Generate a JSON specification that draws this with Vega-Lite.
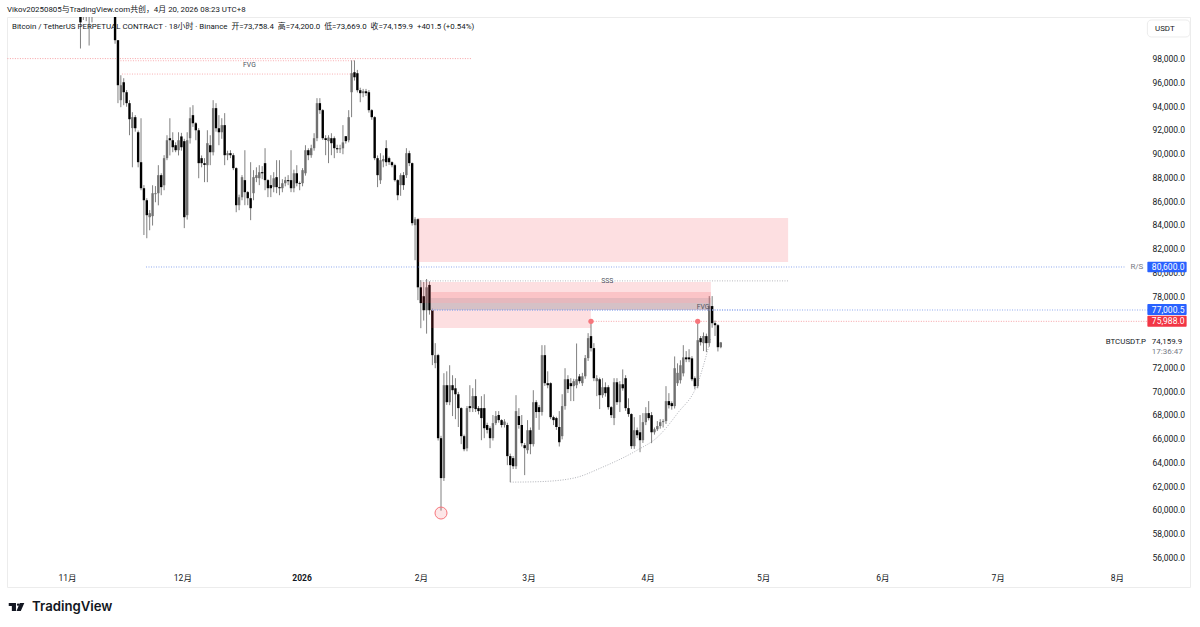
{
  "$schema": "https://vega.github.io/schema/vega-lite/v6.json",
  "description": "BTCUSDT.P 18h candles with FVG zones and levels",
  "width": 1183,
  "height": 570,
  "padding": {"left": 7, "top": 17, "right": 10, "bottom": 40},
  "autosize": "none",
  "background": "#ffffff",
  "view": {"stroke": "#ececec", "strokeWidth": 1},
  "config": {"font": "Roboto, Noto Sans CJK SC"},
  "datasets": {
    "bars": [
      {"t":"2025-11-04T12:00Z","o":102800,"h":103900,"l":98900,"c":101100},
      {"t":"2025-11-05T06:00Z","o":102500,"h":104000,"l":101300,"c":103000},
      {"t":"2025-11-06T00:00Z","o":103000,"h":103500,"l":101200,"c":102500},
      {"t":"2025-11-06T18:00Z","o":102400,"h":103000,"l":99150,"c":102800},
      {"t":"2025-11-07T12:00Z","o":103000,"h":104000,"l":101100,"c":103600},
      {"t":"2025-11-08T06:00Z","o":103600,"h":104500,"l":102400,"c":103200},
      {"t":"2025-11-09T00:00Z","o":103200,"h":104900,"l":102600,"c":104500},
      {"t":"2025-11-09T18:00Z","o":104500,"h":106000,"l":103900,"c":105600},
      {"t":"2025-11-10T12:00Z","o":105600,"h":106500,"l":104800,"c":105000},
      {"t":"2025-11-11T06:00Z","o":105000,"h":105500,"l":102900,"c":103200},
      {"t":"2025-11-12T00:00Z","o":103200,"h":105000,"l":102600,"c":104400},
      {"t":"2025-11-12T18:00Z","o":103000,"h":104000,"l":101600,"c":101900},
      {"t":"2025-11-13T12:00Z","o":101900,"h":102300,"l":99300,"c":99600},
      {"t":"2025-11-14T06:00Z","o":99600,"h":99600,"l":94300,"c":95810},
      {"t":"2025-11-15T00:00Z","o":94550,"h":96650,"l":93960,"c":95810},
      {"t":"2025-11-15T18:00Z","o":96060,"h":96400,"l":94130,"c":95220},
      {"t":"2025-11-16T12:00Z","o":95220,"h":95400,"l":94000,"c":94300},
      {"t":"2025-11-17T06:00Z","o":94300,"h":94550,"l":91600,"c":92950},
      {"t":"2025-11-18T00:00Z","o":92200,"h":93540,"l":88900,"c":93120},
      {"t":"2025-11-18T18:00Z","o":93120,"h":93290,"l":91900,"c":92190},
      {"t":"2025-11-19T12:00Z","o":91850,"h":92000,"l":88900,"c":89330},
      {"t":"2025-11-20T06:00Z","o":89330,"h":93030,"l":86970,"c":87140},
      {"t":"2025-11-21T00:00Z","o":87140,"h":87400,"l":83200,"c":86130},
      {"t":"2025-11-21T18:00Z","o":86130,"h":86300,"l":82930,"c":84870},
      {"t":"2025-11-22T12:00Z","o":84700,"h":85300,"l":83600,"c":85040},
      {"t":"2025-11-23T06:00Z","o":84790,"h":87390,"l":84000,"c":86720},
      {"t":"2025-11-24T00:00Z","o":86640,"h":87320,"l":85960,"c":86720},
      {"t":"2025-11-24T18:00Z","o":86720,"h":89080,"l":85700,"c":88240},
      {"t":"2025-11-25T12:00Z","o":88240,"h":88400,"l":86550,"c":87230},
      {"t":"2025-11-26T06:00Z","o":87390,"h":89920,"l":86970,"c":89670},
      {"t":"2025-11-27T00:00Z","o":89670,"h":91600,"l":89500,"c":91180},
      {"t":"2025-11-27T18:00Z","o":91350,"h":93030,"l":89900,"c":91180},
      {"t":"2025-11-28T12:00Z","o":91180,"h":91850,"l":90170,"c":90590},
      {"t":"2025-11-29T06:00Z","o":90760,"h":91000,"l":90170,"c":90340},
      {"t":"2025-11-30T00:00Z","o":90340,"h":91850,"l":89900,"c":91180},
      {"t":"2025-11-30T18:00Z","o":91500,"h":91800,"l":90300,"c":90590},
      {"t":"2025-12-01T12:00Z","o":91100,"h":91300,"l":83780,"c":84700},
      {"t":"2025-12-02T06:00Z","o":84870,"h":91850,"l":84500,"c":91180},
      {"t":"2025-12-03T00:00Z","o":91350,"h":93950,"l":90900,"c":93030},
      {"t":"2025-12-03T18:00Z","o":93290,"h":94130,"l":92300,"c":92610},
      {"t":"2025-12-04T12:00Z","o":92610,"h":92700,"l":91180,"c":92020},
      {"t":"2025-12-05T06:00Z","o":92020,"h":92200,"l":87980,"c":89250},
      {"t":"2025-12-06T00:00Z","o":89670,"h":89900,"l":88900,"c":89250},
      {"t":"2025-12-06T18:00Z","o":89250,"h":89670,"l":87650,"c":89100},
      {"t":"2025-12-07T12:00Z","o":89080,"h":92020,"l":87650,"c":90930},
      {"t":"2025-12-08T06:00Z","o":90760,"h":91600,"l":89080,"c":90170},
      {"t":"2025-12-09T00:00Z","o":90170,"h":94550,"l":89900,"c":93880},
      {"t":"2025-12-09T18:00Z","o":93880,"h":94300,"l":91900,"c":92190},
      {"t":"2025-12-10T12:00Z","o":92190,"h":93290,"l":90760,"c":91850},
      {"t":"2025-12-11T06:00Z","o":91850,"h":93030,"l":91300,"c":92450},
      {"t":"2025-12-12T00:00Z","o":92450,"h":93460,"l":89080,"c":89920},
      {"t":"2025-12-12T18:00Z","o":89920,"h":90300,"l":89500,"c":90090},
      {"t":"2025-12-13T12:00Z","o":90090,"h":90340,"l":89670,"c":89920},
      {"t":"2025-12-14T06:00Z","o":89920,"h":90090,"l":88660,"c":88830},
      {"t":"2025-12-15T00:00Z","o":88830,"h":88900,"l":85120,"c":85710},
      {"t":"2025-12-15T18:00Z","o":85710,"h":86600,"l":85290,"c":86380},
      {"t":"2025-12-16T12:00Z","o":86380,"h":88240,"l":86130,"c":88070},
      {"t":"2025-12-17T06:00Z","o":87820,"h":90340,"l":85710,"c":86810},
      {"t":"2025-12-18T00:00Z","o":86810,"h":86900,"l":85710,"c":86300},
      {"t":"2025-12-18T18:00Z","o":86300,"h":89330,"l":84450,"c":85460},
      {"t":"2025-12-19T12:00Z","o":86720,"h":88660,"l":86130,"c":88070},
      {"t":"2025-12-20T06:00Z","o":88000,"h":88900,"l":87650,"c":88240},
      {"t":"2025-12-21T00:00Z","o":87980,"h":89080,"l":87400,"c":88490},
      {"t":"2025-12-21T18:00Z","o":88490,"h":89000,"l":87900,"c":88400},
      {"t":"2025-12-22T12:00Z","o":89250,"h":90510,"l":86970,"c":87820},
      {"t":"2025-12-23T06:00Z","o":87820,"h":87900,"l":86390,"c":87140},
      {"t":"2025-12-24T00:00Z","o":87400,"h":88240,"l":86390,"c":87140},
      {"t":"2025-12-24T18:00Z","o":87230,"h":88490,"l":86800,"c":87980},
      {"t":"2025-12-25T12:00Z","o":88070,"h":89500,"l":86720,"c":87230},
      {"t":"2025-12-26T06:00Z","o":87230,"h":89500,"l":86550,"c":87140},
      {"t":"2025-12-27T00:00Z","o":87140,"h":87900,"l":86800,"c":87560},
      {"t":"2025-12-27T18:00Z","o":87560,"h":88100,"l":87300,"c":87820},
      {"t":"2025-12-28T12:00Z","o":87820,"h":88240,"l":87400,"c":87730},
      {"t":"2025-12-29T06:00Z","o":87820,"h":90340,"l":86810,"c":87140},
      {"t":"2025-12-30T00:00Z","o":87140,"h":88700,"l":86800,"c":88400},
      {"t":"2025-12-30T18:00Z","o":88400,"h":89080,"l":87300,"c":87560},
      {"t":"2025-12-31T12:00Z","o":87560,"h":87700,"l":86970,"c":87500},
      {"t":"2026-01-01T06:00Z","o":87560,"h":88830,"l":87300,"c":88660},
      {"t":"2026-01-02T00:00Z","o":88400,"h":90760,"l":88200,"c":90340},
      {"t":"2026-01-02T18:00Z","o":90340,"h":90500,"l":89500,"c":89920},
      {"t":"2026-01-03T12:00Z","o":89920,"h":90800,"l":89700,"c":90510},
      {"t":"2026-01-04T06:00Z","o":90510,"h":91770,"l":90300,"c":91350},
      {"t":"2026-01-05T00:00Z","o":91350,"h":94720,"l":91100,"c":94300},
      {"t":"2026-01-05T18:00Z","o":94300,"h":94720,"l":93400,"c":93710},
      {"t":"2026-01-06T12:00Z","o":93710,"h":93800,"l":91200,"c":91350},
      {"t":"2026-01-07T06:00Z","o":91350,"h":91600,"l":89920,"c":91200},
      {"t":"2026-01-08T00:00Z","o":91100,"h":91600,"l":89250,"c":91400},
      {"t":"2026-01-08T18:00Z","o":91350,"h":91770,"l":89920,"c":90930},
      {"t":"2026-01-09T12:00Z","o":91350,"h":91500,"l":89670,"c":90510},
      {"t":"2026-01-10T06:00Z","o":90510,"h":90800,"l":90100,"c":90420},
      {"t":"2026-01-11T00:00Z","o":90420,"h":90800,"l":90100,"c":90500},
      {"t":"2026-01-11T18:00Z","o":90500,"h":92450,"l":90000,"c":91000},
      {"t":"2026-01-12T12:00Z","o":91520,"h":91520,"l":90900,"c":91100},
      {"t":"2026-01-13T06:00Z","o":91180,"h":93710,"l":91000,"c":93120},
      {"t":"2026-01-14T00:00Z","o":95220,"h":97900,"l":93120,"c":96820},
      {"t":"2026-01-14T18:00Z","o":96900,"h":97900,"l":96200,"c":96480},
      {"t":"2026-01-15T12:00Z","o":96820,"h":97100,"l":95200,"c":95390},
      {"t":"2026-01-16T06:00Z","o":95390,"h":95600,"l":94380,"c":95140},
      {"t":"2026-01-17T00:00Z","o":95140,"h":95500,"l":94800,"c":95300},
      {"t":"2026-01-17T18:00Z","o":95300,"h":95500,"l":94900,"c":95140},
      {"t":"2026-01-18T12:00Z","o":95220,"h":95400,"l":93500,"c":93710},
      {"t":"2026-01-19T06:00Z","o":93710,"h":93800,"l":92900,"c":93120},
      {"t":"2026-01-20T00:00Z","o":93120,"h":93200,"l":89500,"c":89670},
      {"t":"2026-01-20T18:00Z","o":89670,"h":89900,"l":87230,"c":88240},
      {"t":"2026-01-21T12:00Z","o":87810,"h":90090,"l":87500,"c":89500},
      {"t":"2026-01-22T06:00Z","o":89400,"h":89900,"l":88900,"c":89600},
      {"t":"2026-01-23T00:00Z","o":90510,"h":91180,"l":89000,"c":89330},
      {"t":"2026-01-23T18:00Z","o":89670,"h":89800,"l":89100,"c":89330},
      {"t":"2026-01-24T12:00Z","o":89330,"h":89400,"l":88900,"c":89080},
      {"t":"2026-01-25T06:00Z","o":89080,"h":89200,"l":87700,"c":87820},
      {"t":"2026-01-26T00:00Z","o":87820,"h":87900,"l":86130,"c":86550},
      {"t":"2026-01-26T18:00Z","o":87400,"h":88400,"l":86500,"c":88240},
      {"t":"2026-01-27T12:00Z","o":88240,"h":88500,"l":87000,"c":87400},
      {"t":"2026-01-28T06:00Z","o":88240,"h":90510,"l":88000,"c":90090},
      {"t":"2026-01-29T00:00Z","o":90090,"h":90300,"l":89000,"c":89250},
      {"t":"2026-01-29T18:00Z","o":89250,"h":89300,"l":84000,"c":84200},
      {"t":"2026-01-30T12:00Z","o":84030,"h":84700,"l":81080,"c":84530},
      {"t":"2026-01-31T06:00Z","o":84530,"h":84600,"l":77720,"c":78800},
      {"t":"2026-02-01T00:00Z","o":78800,"h":79400,"l":75360,"c":77470},
      {"t":"2026-02-01T18:00Z","o":78050,"h":79250,"l":76000,"c":76870},
      {"t":"2026-02-02T12:00Z","o":76870,"h":79500,"l":74900,"c":78800},
      {"t":"2026-02-03T06:00Z","o":79000,"h":79300,"l":76500,"c":76870},
      {"t":"2026-02-04T00:00Z","o":76870,"h":77000,"l":72250,"c":73090},
      {"t":"2026-02-04T18:00Z","o":72420,"h":74100,"l":71990,"c":73090},
      {"t":"2026-02-05T12:00Z","o":73090,"h":73200,"l":65900,"c":66100},
      {"t":"2026-02-06T06:00Z","o":66100,"h":66300,"l":60000,"c":62740},
      {"t":"2026-02-07T00:00Z","o":62740,"h":71570,"l":62500,"c":70560},
      {"t":"2026-02-07T18:00Z","o":70560,"h":71730,"l":68900,"c":69130},
      {"t":"2026-02-08T12:00Z","o":69130,"h":72240,"l":68880,"c":70560},
      {"t":"2026-02-09T06:00Z","o":70560,"h":71400,"l":67960,"c":70140},
      {"t":"2026-02-10T00:00Z","o":70300,"h":71150,"l":67700,"c":69800},
      {"t":"2026-02-10T18:00Z","o":69800,"h":70000,"l":67040,"c":68630},
      {"t":"2026-02-11T12:00Z","o":68630,"h":68700,"l":65600,"c":66270},
      {"t":"2026-02-12T06:00Z","o":66270,"h":66400,"l":65000,"c":65170},
      {"t":"2026-02-13T00:00Z","o":65250,"h":68800,"l":65000,"c":68630},
      {"t":"2026-02-13T18:00Z","o":68800,"h":70560,"l":68300,"c":68630},
      {"t":"2026-02-14T12:00Z","o":68630,"h":70310,"l":68300,"c":69640},
      {"t":"2026-02-15T06:00Z","o":69640,"h":71060,"l":68300,"c":68550},
      {"t":"2026-02-16T00:00Z","o":68630,"h":68800,"l":68100,"c":68380},
      {"t":"2026-02-16T18:00Z","o":68630,"h":69640,"l":65930,"c":67790},
      {"t":"2026-02-17T12:00Z","o":68630,"h":69800,"l":66100,"c":66940},
      {"t":"2026-02-18T06:00Z","o":67210,"h":67400,"l":66500,"c":66800},
      {"t":"2026-02-19T00:00Z","o":66940,"h":67100,"l":65260,"c":66100},
      {"t":"2026-02-19T18:00Z","o":66100,"h":68050,"l":65900,"c":67370},
      {"t":"2026-02-20T12:00Z","o":67370,"h":68380,"l":67200,"c":67960},
      {"t":"2026-02-21T06:00Z","o":68050,"h":68380,"l":67400,"c":67620},
      {"t":"2026-02-22T00:00Z","o":67620,"h":67700,"l":67000,"c":67210},
      {"t":"2026-02-22T18:00Z","o":67210,"h":67700,"l":67000,"c":67500},
      {"t":"2026-02-23T12:00Z","o":67210,"h":67400,"l":63830,"c":64590},
      {"t":"2026-02-24T06:00Z","o":64590,"h":64800,"l":62400,"c":63830},
      {"t":"2026-02-25T00:00Z","o":64420,"h":64600,"l":63500,"c":63740},
      {"t":"2026-02-25T18:00Z","o":63740,"h":69720,"l":63500,"c":68380},
      {"t":"2026-02-26T12:00Z","o":67960,"h":68630,"l":66900,"c":67210},
      {"t":"2026-02-27T06:00Z","o":67210,"h":68050,"l":65400,"c":65680},
      {"t":"2026-02-28T00:00Z","o":65510,"h":65700,"l":62990,"c":65260},
      {"t":"2026-02-28T18:00Z","o":65090,"h":67620,"l":64800,"c":66770},
      {"t":"2026-03-01T12:00Z","o":66770,"h":67000,"l":64750,"c":65600},
      {"t":"2026-03-02T06:00Z","o":65600,"h":70140,"l":65400,"c":69130},
      {"t":"2026-03-03T00:00Z","o":69130,"h":69300,"l":67800,"c":68300},
      {"t":"2026-03-03T18:00Z","o":68710,"h":68900,"l":66800,"c":68300},
      {"t":"2026-03-04T12:00Z","o":68300,"h":73930,"l":68000,"c":73090},
      {"t":"2026-03-05T06:00Z","o":73090,"h":73930,"l":70500,"c":70730},
      {"t":"2026-03-06T00:00Z","o":70730,"h":71730,"l":70300,"c":70560},
      {"t":"2026-03-06T18:00Z","o":70730,"h":70800,"l":67700,"c":67870},
      {"t":"2026-03-07T12:00Z","o":67870,"h":68000,"l":67200,"c":67620},
      {"t":"2026-03-08T06:00Z","o":67790,"h":67900,"l":66800,"c":67040},
      {"t":"2026-03-09T00:00Z","o":67040,"h":68380,"l":65400,"c":65760},
      {"t":"2026-03-09T18:00Z","o":66270,"h":69800,"l":66000,"c":68800},
      {"t":"2026-03-10T12:00Z","o":68800,"h":71990,"l":68500,"c":71060},
      {"t":"2026-03-11T06:00Z","o":71060,"h":71400,"l":69900,"c":70230},
      {"t":"2026-03-12T00:00Z","o":70730,"h":71150,"l":69220,"c":70480},
      {"t":"2026-03-12T18:00Z","o":70480,"h":71100,"l":69220,"c":70900},
      {"t":"2026-03-13T12:00Z","o":70560,"h":74070,"l":70300,"c":71060},
      {"t":"2026-03-14T06:00Z","o":71300,"h":71500,"l":70700,"c":70900},
      {"t":"2026-03-15T00:00Z","o":70730,"h":71600,"l":70500,"c":71310},
      {"t":"2026-03-15T18:00Z","o":71310,"h":73100,"l":71100,"c":72840},
      {"t":"2026-03-16T12:00Z","o":72840,"h":74940,"l":72600,"c":74520},
      {"t":"2026-03-17T06:00Z","o":74690,"h":75980,"l":73400,"c":73680},
      {"t":"2026-03-18T00:00Z","o":73680,"h":74100,"l":70900,"c":71150},
      {"t":"2026-03-18T18:00Z","o":70900,"h":71400,"l":69640,"c":71150},
      {"t":"2026-03-19T12:00Z","o":71060,"h":71200,"l":68550,"c":69720},
      {"t":"2026-03-20T06:00Z","o":69720,"h":71150,"l":69500,"c":70390},
      {"t":"2026-03-21T00:00Z","o":70390,"h":70800,"l":69600,"c":69890},
      {"t":"2026-03-21T18:00Z","o":70390,"h":70560,"l":68500,"c":68710},
      {"t":"2026-03-22T12:00Z","o":68710,"h":68800,"l":67800,"c":68040},
      {"t":"2026-03-23T06:00Z","o":67790,"h":71150,"l":67200,"c":70810},
      {"t":"2026-03-24T00:00Z","o":70810,"h":71150,"l":68900,"c":69130},
      {"t":"2026-03-24T18:00Z","o":69130,"h":70900,"l":68300,"c":70640},
      {"t":"2026-03-25T12:00Z","o":70640,"h":71890,"l":70100,"c":70300},
      {"t":"2026-03-26T06:00Z","o":71150,"h":71400,"l":68400,"c":68630},
      {"t":"2026-03-27T00:00Z","o":68630,"h":69460,"l":67900,"c":68130},
      {"t":"2026-03-27T18:00Z","o":68130,"h":68200,"l":65200,"c":65430},
      {"t":"2026-03-28T12:00Z","o":65430,"h":67870,"l":65200,"c":66770},
      {"t":"2026-03-29T06:00Z","o":66770,"h":67000,"l":66100,"c":66350},
      {"t":"2026-03-30T00:00Z","o":66600,"h":68050,"l":64920,"c":65930},
      {"t":"2026-03-30T18:00Z","o":65930,"h":68210,"l":65700,"c":67450},
      {"t":"2026-03-31T12:00Z","o":67450,"h":68710,"l":67200,"c":68210},
      {"t":"2026-04-01T06:00Z","o":68210,"h":69220,"l":67600,"c":67790},
      {"t":"2026-04-02T00:00Z","o":68040,"h":68300,"l":65680,"c":66600},
      {"t":"2026-04-02T18:00Z","o":66600,"h":67000,"l":66400,"c":66850},
      {"t":"2026-04-03T12:00Z","o":66850,"h":67540,"l":66700,"c":67120},
      {"t":"2026-04-04T06:00Z","o":67120,"h":67700,"l":66900,"c":67450},
      {"t":"2026-04-05T00:00Z","o":67450,"h":67700,"l":67000,"c":67540},
      {"t":"2026-04-05T18:00Z","o":67540,"h":70480,"l":67300,"c":69220},
      {"t":"2026-04-06T12:00Z","o":69220,"h":69890,"l":68600,"c":68880},
      {"t":"2026-04-07T06:00Z","o":69050,"h":69200,"l":68500,"c":68800},
      {"t":"2026-04-08T00:00Z","o":68800,"h":72980,"l":68600,"c":71990},
      {"t":"2026-04-08T18:00Z","o":70730,"h":72400,"l":70500,"c":71600},
      {"t":"2026-04-09T12:00Z","o":70980,"h":72660,"l":70700,"c":72240},
      {"t":"2026-04-10T06:00Z","o":71560,"h":73930,"l":71300,"c":72900},
      {"t":"2026-04-11T00:00Z","o":72900,"h":73430,"l":72500,"c":72740},
      {"t":"2026-04-11T18:00Z","o":72900,"h":73590,"l":72500,"c":72740},
      {"t":"2026-04-12T12:00Z","o":72820,"h":73000,"l":70900,"c":71060},
      {"t":"2026-04-13T06:00Z","o":71150,"h":71300,"l":70230,"c":70480},
      {"t":"2026-04-14T00:00Z","o":70480,"h":75980,"l":70300,"c":74350},
      {"t":"2026-04-14T18:00Z","o":74520,"h":74700,"l":73900,"c":74180},
      {"t":"2026-04-15T12:00Z","o":74100,"h":75000,"l":73430,"c":74700},
      {"t":"2026-04-16T06:00Z","o":74690,"h":74900,"l":73350,"c":74100},
      {"t":"2026-04-17T00:00Z","o":74100,"h":78060,"l":73800,"c":77220},
      {"t":"2026-04-17T18:00Z","o":77220,"h":78060,"l":75400,"c":75780},
      {"t":"2026-04-18T12:00Z","o":75780,"h":76000,"l":74700,"c":75610},
      {"t":"2026-04-19T06:00Z","o":75610,"h":75700,"l":73400,"c":73758.4},
      {"t":"2026-04-20T00:00Z","o":73758.4,"h":74200,"l":73669,"c":74159.9}
    ],
    "zones": [
      {"t":"2026-01-31T07:00Z","t2":"2026-05-07T12:00Z","p":84630,"p2":80930,"kind":"pink"},
      {"t":"2026-02-01T00:00Z","t2":"2026-04-17T10:00Z","p":79250,"p2":77480,"kind":"pink"},
      {"t":"2026-02-03T15:00Z","t2":"2026-04-17T10:00Z","p":78400,"p2":76890,"kind":"pink"},
      {"t":"2026-02-03T15:00Z","t2":"2026-04-17T10:00Z","p":77900,"p2":76890,"kind":"shade"},
      {"t":"2026-02-03T15:00Z","t2":"2026-04-17T10:00Z","p":77480,"p2":76890,"kind":"shade"},
      {"t":"2026-02-03T15:00Z","t2":"2026-03-17T05:00Z","p":76890,"p2":75375,"kind":"pink"}
    ],
    "levels": [
      {"t":"2025-10-16T12:00Z","t2":"2026-02-14T07:00Z","p":98050,"kind":"red"},
      {"t":"2025-11-14T06:00Z","t2":"2026-01-14T14:00Z","p":97870,"kind":"fvg"},
      {"t":"2025-11-15T07:00Z","t2":"2026-01-14T14:00Z","p":96750,"kind":"fvg"},
      {"t":"2025-11-21T13:00Z","t2":"2026-08-03T02:00Z","p":80510,"kind":"blue"},
      {"t":"2026-01-31T19:00Z","t2":"2026-03-19T02:00Z","p":79340,"kind":"gray"},
      {"t":"2026-03-22T17:00Z","t2":"2026-05-07T17:00Z","p":79340,"kind":"gray"},
      {"t":"2026-02-03T22:00Z","t2":"2026-08-09T02:00Z","p":76890,"kind":"blue"},
      {"t":"2026-02-03T22:00Z","t2":"2026-05-04T02:00Z","p":76890,"kind":"blue"},
      {"t":"2026-03-17T05:00Z","t2":"2026-08-09T02:00Z","p":75935,"kind":"red"}
    ],
    "arc": [
      {"t":"2026-02-24T06:00Z","p":62400},
      {"t":"2026-03-03T18:00Z","p":62440},
      {"t":"2026-03-12T18:00Z","p":62740},
      {"t":"2026-03-20T06:00Z","p":63660},
      {"t":"2026-03-29T06:00Z","p":65090},
      {"t":"2026-04-03T12:00Z","p":66180},
      {"t":"2026-04-08T18:00Z","p":68200},
      {"t":"2026-04-14T00:00Z","p":70730},
      {"t":"2026-04-16T06:00Z","p":73090},
      {"t":"2026-04-17T10:00Z","p":74520}
    ],
    "badges": [
      {"t":"2026-08-08T22:00Z","t2":"2026-08-19T03:00Z","p":80955,"p2":80063,"kind":"badgeBlue"},
      {"t":"2026-08-08T22:00Z","t2":"2026-08-19T03:00Z","p":77395,"p2":76470,"kind":"badgeBlue"},
      {"t":"2026-08-08T22:00Z","t2":"2026-08-19T03:00Z","p":76408,"p2":75480,"kind":"badgeRed"}
    ],
    "badgeText": [
      {"t":"2026-08-10T02:00Z","p":80510,"label":"80,600.0"},
      {"t":"2026-08-10T02:00Z","p":76930,"label":"77,000.5"},
      {"t":"2026-08-10T02:00Z","p":75930,"label":"75,988.0"}
    ],
    "darkText": [
      {"t":"2025-10-16T09:36Z","p":102141,"label":"Vikov20250805与TradingView.com共创，4月 20, 2026 08:23 UTC+8"},
      {"t":"2025-10-17T17:00Z","p":100710,"label":"Bitcoin / TetherUS PERPETUAL CONTRACT · 18小时 · Binance\u00a0 开=73,758.4\u00a0 高=74,200.0\u00a0 低=73,669.0\u00a0 收=74,159.9\u00a0 +401.5 (+0.54%)"},
      {"t":"2026-08-10T22:00Z","p":100540,"label":"USDT"},
      {"t":"2026-08-10T02:00Z","p":74160,"label":"74,159.9"},
      {"t":"2026-07-29T02:00Z","p":74160,"label":"BTCUSDT.P"}
    ],
    "smallText": [
      {"t":"2025-12-16T19:00Z","p":97510,"label":"FVG"},
      {"t":"2026-03-19T22:00Z","p":79330,"label":"SSS"},
      {"t":"2026-04-13T18:00Z","p":77180,"label":"FVG"}
    ],
    "grayText": [
      {"t":"2026-08-04T12:00Z","p":80510,"label":"R/S"},
      {"t":"2026-08-10T02:00Z","p":73355,"label":"17:36:47"}
    ]
  },
  "encoding": {
    "x": {
      "field": "t",
      "type": "temporal",
      "scale": {"type": "utc", "domain": ["2025-10-16T09:36:00Z", "2026-08-20T00:00:00Z"], "nice": false},
      "axis": {
        "orient": "bottom",
        "offset": -16,
        "title": null,
        "grid": false,
        "domain": false,
        "ticks": false,
        "labelPadding": 2,
        "labelFontSize": 8.5,
        "labelColor": "#131722",
        "labelOverlap": false,
        "labelFlush": false,
        "values": [
          {"year": 2025, "month": 11, "date": 1, "utc": true},
          {"year": 2025, "month": 12, "date": 1, "utc": true},
          {"year": 2026, "month": 1, "date": 1, "utc": true},
          {"year": 2026, "month": 2, "date": 1, "utc": true},
          {"year": 2026, "month": 3, "date": 1, "utc": true},
          {"year": 2026, "month": 4, "date": 1, "utc": true},
          {"year": 2026, "month": 5, "date": 1, "utc": true},
          {"year": 2026, "month": 6, "date": 1, "utc": true},
          {"year": 2026, "month": 7, "date": 1, "utc": true},
          {"year": 2026, "month": 8, "date": 1, "utc": true}
        ],
        "labelExpr": "utcmonth(datum.value) == 0 ? '2026' : (utcmonth(datum.value) + 1) + '月'",
        "labelFontWeight": {"condition": {"test": "utcmonth(datum.value) == 0", "value": "bold"}, "value": "normal"}
      }
    },
    "y": {
      "field": "p",
      "type": "quantitative",
      "scale": {"domain": [53574, 101552], "nice": false, "zero": false},
      "axis": {
        "orient": "right",
        "offset": -47,
        "title": null,
        "grid": false,
        "domain": false,
        "ticks": false,
        "labelPadding": 9,
        "labelOffset": -0.7,
        "labelFontSize": 8.5,
        "labelColor": "#131722",
        "format": ",.1f",
        "values": [56000, 58000, 60000, 62000, 64000, 66000, 68000, 70000, 72000, 78000, 80000, 82000, 84000, 86000, 88000, 90000, 92000, 94000, 96000, 98000]
      }
    }
  },
  "layer": [
    {
      "data": {"name": "levels"},
      "transform": [{"filter": "datum.kind != 'blue'"}],
      "mark": {"type": "rule", "strokeWidth": 1, "strokeDash": [1, 1.5]},
      "encoding": {
        "x2": {"field": "t2"},
        "color": {"field": "kind", "type": "nominal", "legend": null, "scale": {
          "domain": ["red", "fvg", "blue", "gray", "pink", "shade", "badgeBlue", "badgeRed"],
          "range": ["#f7a1a5", "#f9aeb2", "#8fa9ee", "#b7b8bd", "#f23645", "#787b86", "#2962ff", "#f23645"]
        }}
      }
    },
    {
      "data": {"name": "arc"},
      "mark": {"type": "line", "interpolate": "monotone", "color": "#b0b2b8", "strokeWidth": 1, "strokeDash": [1, 1.5]}
    },
    {
      "data": {"name": "bars"},
      "mark": {"type": "rule", "color": "#808080", "strokeWidth": 1, "clip": true},
      "encoding": {
        "y": {"field": "l", "type": "quantitative", "axis": {
          "orient": "right", "offset": -47, "title": null, "grid": false, "domain": false, "ticks": false, "labelPadding": 9, "labelOffset": -0.7, "labelFontSize": 8.5, "labelColor": "#131722", "format": ",.1f",
          "values": [56000, 58000, 60000, 62000, 64000, 66000, 68000, 70000, 72000, 78000, 80000, 82000, 84000, 86000, 88000, 90000, 92000, 94000, 96000, 98000]
        }},
        "y2": {"field": "h"}
      }
    },
    {
      "data": {"name": "bars"},
      "mark": {"type": "rule", "strokeWidth": 2.4, "clip": true},
      "encoding": {
        "y": {"field": "o", "type": "quantitative", "axis": {
          "orient": "right", "offset": -47, "title": null, "grid": false, "domain": false, "ticks": false, "labelPadding": 9, "labelOffset": -0.7, "labelFontSize": 8.5, "labelColor": "#131722", "format": ",.1f",
          "values": [56000, 58000, 60000, 62000, 64000, 66000, 68000, 70000, 72000, 78000, 80000, 82000, 84000, 86000, 88000, 90000, 92000, 94000, 96000, 98000]
        }},
        "y2": {"field": "c"},
        "color": {"condition": {"test": "datum.c < datum.o", "value": "#000000"}, "value": "#707070"}
      }
    },
    {
      "data": {"name": "zones"},
      "mark": {"type": "rect", "opacity": 0.16},
      "encoding": {
        "x2": {"field": "t2"},
        "y2": {"field": "p2"},
        "color": {"field": "kind", "type": "nominal", "legend": null}
      }
    },
    {
      "data": {"name": "levels"},
      "transform": [{"filter": "datum.kind == 'blue'"}],
      "mark": {"type": "rule", "strokeWidth": 1, "strokeDash": [1, 1.5]},
      "encoding": {
        "x2": {"field": "t2"},
        "color": {"field": "kind", "type": "nominal", "legend": null}
      }
    },
    {
      "data": {"values": [
        {"t": "2026-03-17T06:00Z", "p": 75935},
        {"t": "2026-04-14T00:00Z", "p": 75935}
      ]},
      "mark": {"type": "point", "shape": "circle", "filled": true, "size": 28, "color": "#f7767c", "opacity": 1}
    },
    {
      "data": {"values": [{"t": "2026-02-06T06:00Z", "p": 59800}]},
      "mark": {"type": "point", "shape": "circle", "size": 144, "fill": "#f23645", "fillOpacity": 0.12, "stroke": "#f7767c", "strokeWidth": 1, "opacity": 1}
    },
    {
      "data": {"name": "badges"},
      "mark": {"type": "rect", "cornerRadius": 1},
      "encoding": {
        "x2": {"field": "t2"},
        "y2": {"field": "p2"},
        "color": {"field": "kind", "type": "nominal", "legend": null}
      }
    },
    {
      "data": {"name": "badgeText"},
      "mark": {"type": "text", "align": "left", "baseline": "middle", "fontSize": 8.5, "color": "#ffffff"},
      "encoding": {"text": {"field": "label"}}
    },
    {
      "data": {"values": [{"t": "2026-08-08T22:00Z", "t2": "2026-08-20T00:00Z", "p": 101300, "p2": 99870}]},
      "mark": {"type": "rect", "cornerRadius": 4, "fill": "#ffffff", "stroke": "#ececec", "strokeWidth": 1},
      "encoding": {"x2": {"field": "t2"}, "y2": {"field": "p2"}}
    },
    {
      "data": {"name": "darkText"},
      "mark": {"type": "text", "align": "left", "baseline": "middle", "fontSize": 7.9, "color": "#131722"},
      "encoding": {"text": {"field": "label"}}
    },
    {
      "data": {"name": "smallText"},
      "mark": {"type": "text", "align": "left", "baseline": "middle", "fontSize": 6.8, "color": "#50535e"},
      "encoding": {"text": {"field": "label"}}
    },
    {
      "data": {"name": "grayText"},
      "mark": {"type": "text", "align": "left", "baseline": "middle", "fontSize": 8, "color": "#787b86"},
      "encoding": {"text": {"field": "label"}}
    },
    {
      "data": {"values": [{"t": "2025-10-18T21:00Z", "p": 51890}]},
      "mark": {"type": "point", "filled": true, "size": 243, "color": "#131722", "opacity": 1,
        "shape": "M-1,-.5H-.07V.5H-.6V-.14H-1ZM.05,-.3a.15,.15 0 1,0 .3,0a.15,.15 0 1,0 -.3,0ZM.42,-.5H1L.55,.5H0Z"}
    },
    {
      "data": {"values": [{"t": "2025-10-22T22:00Z", "p": 51890, "label": "TradingView"}]},
      "mark": {"type": "text", "align": "left", "baseline": "middle", "fontSize": 13.2, "fontWeight": 600, "font": "Inter", "color": "#131722"},
      "encoding": {"text": {"field": "label"}}
    }
  ]
}
